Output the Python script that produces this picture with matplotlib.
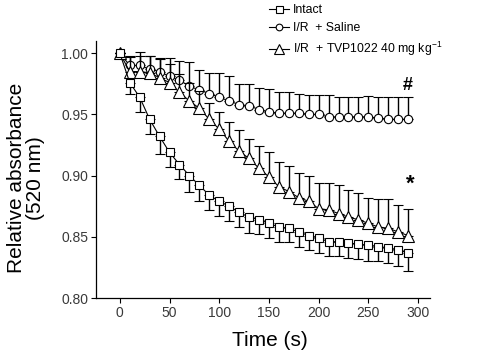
import numpy as np
import matplotlib.pyplot as plt

plt.rcParams['font.family'] = ['Liberation Sans', 'DejaVu Sans']
plt.rcParams['mathtext.fontset'] = 'custom'
plt.rcParams['mathtext.rm'] = 'Liberation Sans'
plt.rcParams['mathtext.it'] = 'Liberation Sans'

# time points (s)
t = [0, 10, 20, 30, 40, 50, 60, 70, 80, 90, 100, 110, 120, 130, 140,
     150, 160, 170, 180, 190, 200, 210, 220, 230, 240, 250, 260, 270, 280, 290]

intact = [1.000, 0.976, 0.964, 0.946, 0.932, 0.919, 0.909, 0.900, 0.892, 0.884,
          0.879, 0.875, 0.870, 0.866, 0.864, 0.861, 0.858, 0.857, 0.854, 0.851,
          0.849, 0.846, 0.846, 0.845, 0.844, 0.843, 0.842, 0.841, 0.839, 0.837]
intact_sem = [0, 0.009, 0.012, 0.012, 0.014, 0.012, 0.012, 0.013, 0.013, 0.012,
              0.012, 0.012, 0.012, 0.013, 0.012, 0.012, 0.012, 0.011, 0.012, 0.012,
              0.012, 0.012, 0.012, 0.012, 0.012, 0.013, 0.012, 0.012, 0.013, 0.015]

saline = [1.000, 0.990, 0.990, 0.987, 0.985, 0.981, 0.978, 0.973, 0.970, 0.967,
          0.964, 0.961, 0.958, 0.957, 0.954, 0.952, 0.951, 0.951, 0.951, 0.950,
          0.950, 0.948, 0.948, 0.948, 0.948, 0.948, 0.947, 0.946, 0.946, 0.946]
saline_sem = [0, 0.008, 0.011, 0.011, 0.011, 0.015, 0.016, 0.020, 0.016, 0.017,
              0.020, 0.020, 0.017, 0.018, 0.018, 0.019, 0.017, 0.017, 0.016, 0.016,
              0.016, 0.018, 0.016, 0.016, 0.016, 0.017, 0.017, 0.018, 0.018, 0.018]

tvp = [1.000, 0.985, 0.985, 0.984, 0.980, 0.976, 0.968, 0.961, 0.955, 0.946,
       0.938, 0.928, 0.920, 0.914, 0.906, 0.899, 0.891, 0.887, 0.882, 0.879,
       0.873, 0.872, 0.869, 0.866, 0.864, 0.861, 0.858, 0.857, 0.854, 0.851]
tvp_sem = [0, 0.012, 0.013, 0.014, 0.015, 0.015, 0.015, 0.015, 0.014, 0.013,
           0.014, 0.016, 0.017, 0.016, 0.018, 0.020, 0.020, 0.021, 0.020, 0.021,
           0.021, 0.022, 0.023, 0.022, 0.022, 0.021, 0.023, 0.024, 0.022, 0.022]

labels = ['Intact', 'I/R  + Saline', 'I/R  + TVP1022 40 mg kg$^{-1}$']
xticks = [0, 50, 100, 150, 200, 250, 300]
yticks = [0.80, 0.85, 0.90, 0.95, 1.00]

fig = plt.figure(figsize=(5.02, 3.59), dpi=100)
ax = fig.add_axes([0.1912, 0.1699, 0.6654, 0.7159])

zero = np.zeros(len(t))
ebkw = dict(color='black', ecolor='black', elinewidth=1.0, capsize=3.5,
            capthick=1.0, linewidth=0.8, markerfacecolor='white',
            markeredgecolor='black', markeredgewidth=0.8)

h1 = ax.errorbar(t, intact, yerr=[intact_sem, zero], marker='s', markersize=6.3,
                 zorder=3, **ebkw)
h2 = ax.errorbar(t, saline, yerr=[zero, saline_sem], marker='o', markersize=6.0,
                 zorder=2, **ebkw)
h3 = ax.errorbar(t, tvp, yerr=[zero, tvp_sem], marker='^', markersize=9,
                 zorder=2.5, **ebkw)

ax.text(290, 0.974, '#', fontsize=13, fontweight='bold', ha='center', va='center')
ax.text(292, 0.893, '*', fontsize=16, fontweight='bold', ha='center', va='center')

ax.set_xlim(-24, 312)
ax.set_ylim(0.80, 1.01)
ax.set_xticks(xticks)
ax.set_yticks(yticks)
ax.set_yticklabels(['%.2f' % v for v in yticks])
ax.tick_params(direction='out', length=3.5, width=0.8, labelsize=10,
               labelcolor='#3a3a3a', pad=2)
for s in ['top', 'right']:
    ax.spines[s].set_visible(False)
for s in ['left', 'bottom']:
    ax.spines[s].set_linewidth(0.9)

fig.text(0.052, 0.505, 'Relative absorbance\n(520 nm)', rotation=90,
         ha='center', va='center', multialignment='center', fontsize=15,
         linespacing=1.0)
fig.text(0.538, 0.052, 'Time (s)', ha='center', va='center', fontsize=15)

leg = ax.legend([h1[0], h2[0], h3[0]], labels, loc='upper left',
                bbox_to_anchor=(0.518, 1.013), bbox_transform=fig.transFigure,
                frameon=False, fontsize=8.8, handlelength=1.7, handletextpad=0.3,
                labelspacing=0.5, markerscale=0.8, borderpad=0.2)

fig.savefig('out.png', dpi=100)
